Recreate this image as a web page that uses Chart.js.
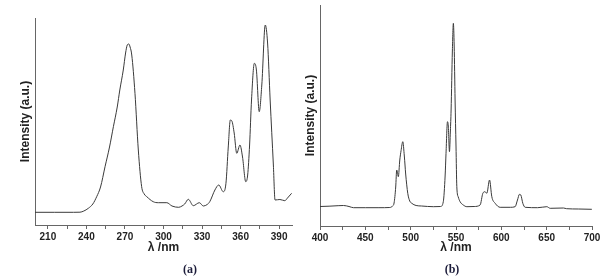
<!DOCTYPE html>
<html lang="en">
<head>
  <meta charset="UTF-8" />
  <title>Excitation and emission spectra</title>
  <script src="https://cdn.jsdelivr.net/npm/chart.js"></script>
  <style>
    body {
      margin: 0;
      background: #fff;
      width: 609px;
      height: 279px;
      position: relative;
      overflow: hidden;
    }
    canvas {
      position: absolute;
      top: 0;
    }
    #chart-a { left: 0; }
    #chart-b { left: 298px; }
    .panel-tag {
      position: absolute;
      top: 262px;
      font-family: 'Liberation Serif', serif;
      font-weight: bold;
      font-size: 12px;
      color: #1c1c3a;
      transform: translateX(-50%);
    }
  </style>
</head>
<body>
<canvas id="chart-a" width="305" height="279"></canvas>
<canvas id="chart-b" width="311" height="279"></canvas>
<div class="panel-tag" style="left:190px">(a)</div>
<div class="panel-tag" style="left:452px">(b)</div>

<script>
  // (a) excitation spectrum (a.u.)
  const wavelengthsA = [200, 215, 230, 235, 238, 241.5, 245, 248, 251, 254.5, 258, 261, 264, 266, 268.7, 270.5, 271.8, 273, 274, 275.3, 277.8, 280.4, 283, 285, 287, 292, 296, 302.6, 306.6, 311.8, 314.4, 316.5, 319.3, 323.2, 327.9, 331, 334, 336, 340, 343, 346.5, 348.6, 350.4, 352, 353.2, 355, 357, 359.5, 361.5, 364, 365.5, 367, 368.5, 370.7, 372.3, 374.5, 376.5, 379.2, 381, 383, 385.5, 386.8, 390.6, 394.4, 396.5, 399.7];
  const intensityA  = [12.7, 12.7, 12.7, 12.8, 14, 16.7, 21, 28.3, 38, 58.3, 78, 98.3, 118, 135, 155, 172, 180, 181, 178, 170, 131.7, 75, 38.3, 31, 28.3, 23.3, 22.3, 22.3, 19, 17.7, 19, 21, 25.7, 19.3, 22.3, 19, 20.5, 23.3, 35, 40, 33.3, 41.7, 78, 105, 104, 92, 71.7, 80, 68, 43.3, 50, 80, 125, 161.7, 155, 113.3, 140, 200, 182, 125, 60, 25, 25.5, 24.3, 27, 31.7];

  // (b) emission spectrum (a.u.)
  const wavelengthsB = [400, 410, 420, 426, 432, 437, 450, 465, 477, 480, 481.7, 483.5, 484.6, 486.4, 488, 489.4, 491.3, 493, 494.5, 496.8, 499, 501.2, 506, 512, 525, 533, 536, 538, 539, 540.6, 541.5, 542.8, 543.8, 544.6, 546, 547.1, 548, 549, 550, 550.9, 552.5, 554.5, 558, 562, 570, 576.6, 579.6, 582, 584, 587, 589.5, 593.2, 598.7, 610, 615.2, 617.8, 620, 621.5, 623.7, 626.3, 640, 650.2, 653.9, 668.5, 672, 685, 699.8];
  const intensityB  = [19.5, 19.8, 20.3, 20.5, 19.5, 18.3, 18.3, 18.3, 18.5, 20, 23, 39, 56, 49.3, 66, 75.3, 84.3, 70, 52, 32.7, 25, 22.7, 20.5, 20, 19.3, 19.5, 24.3, 50, 72.7, 104.3, 100, 74.3, 95, 116, 175, 202.7, 180, 126, 80, 39.3, 29, 24.3, 21, 19.3, 19.5, 21, 32.7, 34.3, 32.7, 46, 29.3, 22.7, 18.7, 18.7, 19.3, 26, 31.7, 31, 22.7, 18.7, 18.3, 19.3, 17.7, 18, 17.3, 17, 16.7];

  // x axis ticks
  const majorTicksA = [210, 240, 270, 300, 330, 360, 390];
  const minorTicksA = [225, 255, 285, 315, 345, 375];
  const majorTicksB = [400, 450, 500, 550, 600, 650, 700];
  const minorTicksB = [425, 475, 525, 575, 625, 675];

  const axisTitle = 'Intensity (a.u.)';
  const xTitle = 'λ /nm';

  const fontFamily = "'Liberation Sans', Arial, sans-serif";
  const axisColor = '#666';
  const lineColor = '#3a3a3a';

  function makeChart(id, xs, ys, xRange, yMax, major, minor, box) {
    const points = xs.map((x, i) => ({ x: x, y: ys[i] }));
    const allTicks = major.concat(minor).sort((a, b) => a - b);
    return new Chart(document.getElementById(id), {
      type: 'line',
      data: {
        datasets: [{
          data: points,
          borderColor: lineColor,
          borderWidth: 1,
          pointRadius: 0,
          fill: false,
          cubicInterpolationMode: 'monotone'
        }]
      },
      options: {
        responsive: false,
        animation: false,
        devicePixelRatio: 1,
        layout: { padding: { top: box.top, right: box.right, left: 0, bottom: 0 } },
        plugins: { legend: { display: false }, tooltip: { enabled: false } },
        scales: {
          x: {
            type: 'linear',
            min: xRange[0],
            max: xRange[1],
            afterBuildTicks: s => { s.ticks = allTicks.map(v => ({ value: v })); },
            afterFit: s => { s.height = box.xHeight; },
            grid: { drawOnChartArea: false, tickLength: 4, color: axisColor },
            border: { color: axisColor, width: 1 },
            ticks: {
              padding: 2,
              autoSkip: false,
              maxRotation: 0,
              minRotation: 0,
              color: '#222',
              font: { family: fontFamily, size: 10, weight: 'bold' },
              callback: v => major.includes(v) ? String(v) : ''
            },
            title: {
              display: true,
              text: xTitle,
              color: '#222',
              font: { family: fontFamily, size: 12, weight: 'bold' },
              padding: { top: 0, bottom: 24 }
            }
          },
          y: {
            min: 0,
            max: yMax,
            afterFit: s => { s.width = box.yWidth; },
            grid: { drawOnChartArea: false, drawTicks: false },
            border: { color: axisColor, width: 1 },
            ticks: { display: false },
            title: {
              display: true,
              text: axisTitle,
              color: '#222',
              font: { family: fontFamily, size: 12, weight: 'bold' },
              padding: { top: box.yTitlePad, bottom: 0 }
            }
          }
        }
      }
    });
  }

  makeChart('chart-a', wavelengthsA, intensityA, [200, 400], 207, majorTicksA, minorTicksA,
    { top: 18, right: 13, xHeight: 54, yWidth: 35, yTitlePad: 18 });
  makeChart('chart-b', wavelengthsB, intensityB, [400, 700], 221, majorTicksB, minorTicksB,
    { top: 5, right: 17, xHeight: 53, yWidth: 22, yTitlePad: 5 });
</script>
</body>
</html>
